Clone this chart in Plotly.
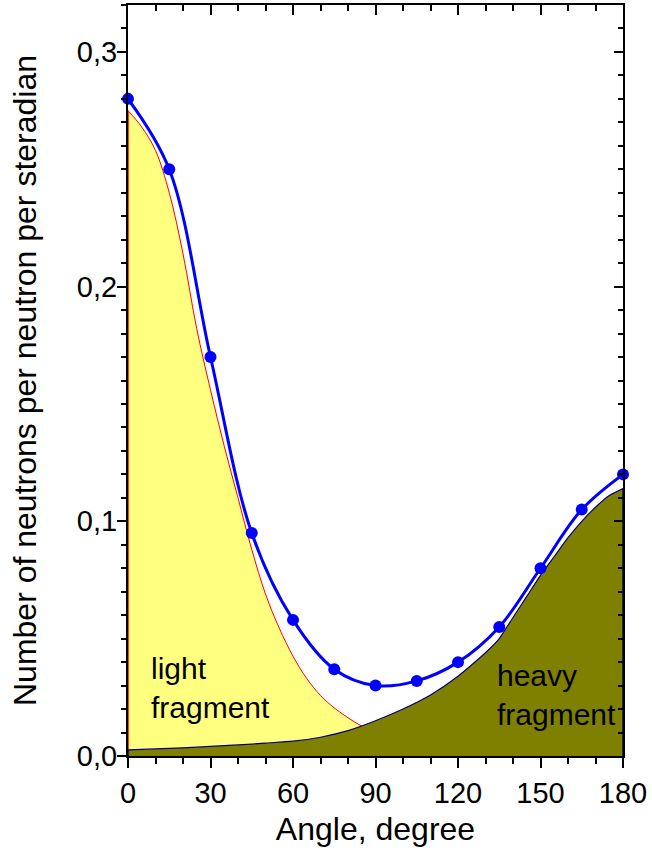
import plotly.graph_objects as go

# Total measured distribution (points, blue)
total_angle = [0, 15, 30, 45, 60, 75, 90, 105, 120, 135, 150, 165, 180]
total_y = [0.280, 0.250, 0.170, 0.095, 0.058, 0.037, 0.030, 0.032, 0.040, 0.055, 0.080, 0.105, 0.120]

# Light fragment contribution (yellow area)
light_angle = [0, 5, 10, 15, 20, 25, 30, 35, 40, 45, 50, 55, 60, 65, 70, 75, 80, 85, 90]
light_y = [0.275, 0.268, 0.258, 0.240, 0.214, 0.182, 0.156, 0.132, 0.110, 0.088, 0.069,
           0.0545, 0.0425, 0.033, 0.0258, 0.0205, 0.0163, 0.0127, 0.010]

# Heavy fragment contribution (olive area)
heavy_angle = [0, 10, 20, 30, 40, 50, 60, 70, 80, 90, 100, 110, 120, 130, 135, 140, 145,
               150, 155, 160, 165, 170, 175, 180]
heavy_y = [0.0026, 0.0030, 0.0035, 0.0041, 0.0047, 0.0055, 0.0063, 0.0080, 0.0108, 0.0150,
           0.020, 0.026, 0.034, 0.044, 0.050, 0.059, 0.068, 0.077, 0.085, 0.093, 0.100,
           0.106, 0.111, 0.114]

x_ticks = [0, 30, 60, 90, 120, 150, 180]
y_ticks = [0.0, 0.1, 0.2, 0.3]

FONT = "Liberation Sans, Arial, sans-serif"

fig = go.Figure()

# light fragment area
fig.add_trace(go.Scatter(
    x=light_angle, y=light_y,
    mode="lines", line=dict(color="#FF0000", width=1, shape="spline", smoothing=1.0),
    fill="tozeroy", fillcolor="#FFFF80", showlegend=False, hoverinfo="skip"))
# vertical edge of light area at 0
fig.add_trace(go.Scatter(
    x=[light_angle[0], light_angle[0]], y=[0, light_y[0]],
    mode="lines", line=dict(color="#FF0000", width=1.5), showlegend=False, hoverinfo="skip"))

# heavy fragment area
fig.add_trace(go.Scatter(
    x=heavy_angle, y=heavy_y,
    mode="lines", line=dict(color="#000080", width=1.2, shape="spline", smoothing=0.5),
    fill="tozeroy", fillcolor="#808000", showlegend=False, hoverinfo="skip"))
fig.add_trace(go.Scatter(
    x=[heavy_angle[0], heavy_angle[0], None, heavy_angle[-1], heavy_angle[-1]],
    y=[0, heavy_y[0], None, 0, heavy_y[-1]],
    mode="lines", line=dict(color="#000080", width=1.5), showlegend=False, hoverinfo="skip"))

# total
fig.add_trace(go.Scatter(
    x=total_angle, y=total_y, mode="lines+markers",
    line=dict(color="#0000FF", width=3, shape="spline", smoothing=1.0),
    marker=dict(color="#0000FF", size=12),
    showlegend=False, cliponaxis=False))

fig.add_annotation(x=7.6, y=0.029, xref="x", yref="y", text="light<br>fragment",
                   showarrow=False, xanchor="left", yanchor="middle", align="left",
                   font=dict(family=FONT, size=30, color="black"))
fig.add_annotation(x=133.4, y=0.0262, xref="x", yref="y", text="heavy<br>fragment",
                   showarrow=False, xanchor="left", yanchor="middle", align="left",
                   font=dict(family=FONT, size=30, color="black"))

axis_common = dict(showgrid=False, zeroline=False, showline=True, linecolor="black",
                   linewidth=2, tickcolor="black", tickwidth=2)

fig.update_layout(
    width=652, height=858,
    margin=dict(l=128, r=26, t=5, b=102),
    plot_bgcolor="white", paper_bgcolor="white",
    separators=", ",
    font=dict(family=FONT, color="black"),
    xaxis=dict(range=[0, 180], tickvals=x_ticks, ticks="outside", ticklen=10,
               tickfont=dict(size=29),
               minor=dict(dtick=10, ticks="outside", ticklen=6, tickwidth=2, tickcolor="black"),
               title=dict(text="Angle, degree", font=dict(size=32), standoff=10),
               **axis_common),
    yaxis=dict(range=[0, 0.32], tickvals=y_ticks, tickformat=".1f", ticks="outside", ticklen=9,
               tickfont=dict(size=29), ticklabelstandoff=-6,
               minor=dict(dtick=0.01, ticks="outside", ticklen=5, tickwidth=2, tickcolor="black"),
               title=dict(text="Number of neutrons per neutron per steradian",
                          font=dict(size=32), standoff=31),
               **axis_common),
    xaxis2=dict(range=[0, 180], overlaying="x", side="top", anchor="y", tickvals=x_ticks,
                ticks="inside", ticklen=10, showticklabels=False,
                minor=dict(dtick=10, ticks="inside", ticklen=6, tickwidth=2, tickcolor="black"),
                **axis_common),
    yaxis2=dict(range=[0, 0.32], overlaying="y", side="right", anchor="x", tickvals=y_ticks,
                ticks="inside", ticklen=9, showticklabels=False,
                minor=dict(dtick=0.01, ticks="inside", ticklen=5, tickwidth=2, tickcolor="black"),
                **axis_common),
)

# invisible trace to ensure overlay axes render
fig.add_trace(go.Scatter(x=[0], y=[0], xaxis="x2", yaxis="y2", mode="markers",
                         marker=dict(opacity=0), showlegend=False, hoverinfo="skip"))

fig.write_html("out.html")
